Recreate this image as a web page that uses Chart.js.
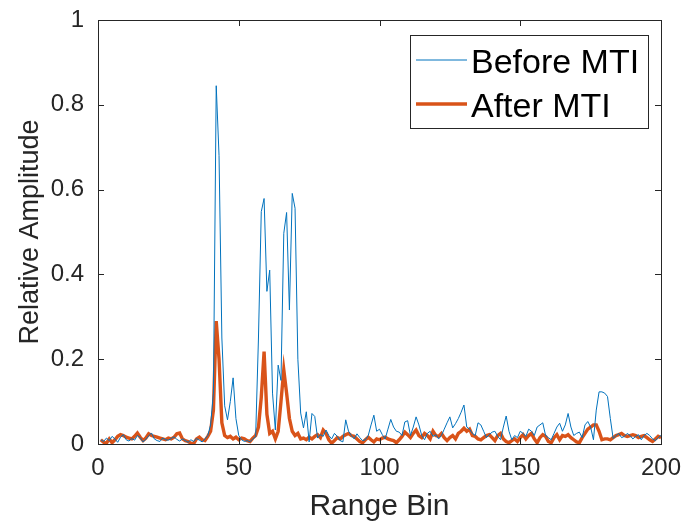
<!DOCTYPE html>
<html>
<head>
<meta charset="utf-8">
<script src="https://cdn.jsdelivr.net/npm/chart.js@4/dist/chart.umd.min.js"></script>
<style>
  html, body { margin: 0; padding: 0; background: #fff; }
  #wrap { width: 681px; height: 522px; }
</style>
</head>
<body>
<div id="wrap"><canvas id="mti"></canvas></div>
<script>
'use strict';

// range bins 1..200
const rangeBins = Array.from({ length: 200 }, (_, i) => i + 1);

const beforeMti = [
  0.010, 0.006, 0.014, 0.008, 0.018, 0.012, 0.004, 0.016, 0.022, 0.010,
  0.007, 0.013, 0.009, 0.020, 0.015, 0.005, 0.011, 0.019, 0.026, 0.012,
  0.008, 0.006, 0.014, 0.010, 0.009, 0.013, 0.017, 0.011, 0.007, 0.012,
  0.008, 0.004, 0.010, 0.006, 0.013, 0.009, 0.005, 0.012, 0.020, 0.045,
  0.120, 0.845, 0.680, 0.250, 0.090, 0.057, 0.100, 0.156, 0.060, 0.020,
  0.010, 0.006, 0.008, 0.005, 0.012, 0.017, 0.250, 0.548, 0.579, 0.360,
  0.410, 0.120, 0.033, 0.186, 0.150, 0.497, 0.546, 0.316, 0.591, 0.556,
  0.200, 0.073, 0.038, 0.076, 0.005, 0.072, 0.065, 0.014, 0.022, 0.018,
  0.033, 0.020, 0.012, 0.025, 0.018, 0.008, 0.005, 0.057, 0.030, 0.020,
  0.012, 0.024, 0.015, 0.008, 0.010, 0.020, 0.045, 0.068, 0.030, 0.035,
  0.022, 0.012, 0.035, 0.058, 0.040, 0.030, 0.028, 0.020, 0.052, 0.055,
  0.020, 0.040, 0.064, 0.045, 0.020, 0.010, 0.025, 0.030, 0.018, 0.022,
  0.012, 0.020, 0.035, 0.050, 0.064, 0.038, 0.048, 0.060, 0.075, 0.092,
  0.040, 0.035, 0.025, 0.020, 0.050, 0.045, 0.030, 0.015, 0.022, 0.028,
  0.030, 0.018, 0.010, 0.040, 0.066, 0.030, 0.010, 0.020, 0.015, 0.030,
  0.025, 0.018, 0.035, 0.030, 0.020, 0.040, 0.045, 0.050, 0.020, 0.015,
  0.010, 0.025, 0.040, 0.049, 0.030, 0.045, 0.072, 0.040, 0.020, 0.025,
  0.028, 0.015, 0.045, 0.053, 0.040, 0.010, 0.080, 0.123, 0.123, 0.120,
  0.112, 0.060, 0.013, 0.020, 0.025, 0.015, 0.018, 0.025, 0.020, 0.012,
  0.018, 0.022, 0.010, 0.020, 0.025, 0.020, 0.012, 0.008, 0.015, 0.020
];

const afterMti = [
  0.010, 0.004, 0.002, 0.012, 0.003, 0.010, 0.018, 0.022, 0.020, 0.016,
  0.014, 0.012, 0.018, 0.026, 0.016, 0.008, 0.014, 0.024, 0.020, 0.018,
  0.016, 0.014, 0.012, 0.010, 0.014, 0.012, 0.016, 0.024, 0.026, 0.012,
  0.008, 0.006, 0.002, 0.001, 0.012, 0.016, 0.010, 0.008, 0.018, 0.030,
  0.080, 0.290, 0.200, 0.050, 0.020, 0.015, 0.018, 0.012, 0.016, 0.010,
  0.014, 0.012, 0.008, 0.006, 0.014, 0.020, 0.040, 0.110, 0.218, 0.070,
  0.025, 0.030, 0.012, 0.030, 0.100, 0.175, 0.120, 0.060, 0.030, 0.020,
  0.025, 0.012, 0.014, 0.010, 0.016, 0.012, 0.018, 0.022, 0.015, 0.033,
  0.025, 0.010, 0.002, 0.008, 0.015, 0.012, 0.018, 0.022, 0.025, 0.020,
  0.018, 0.012, 0.006, 0.003, 0.010, 0.016, 0.010, 0.005, 0.012, 0.010,
  0.014, 0.016, 0.012, 0.010, 0.008, 0.003, 0.010, 0.018, 0.028, 0.022,
  0.015, 0.025, 0.033, 0.020, 0.015, 0.025, 0.020, 0.012, 0.030, 0.020,
  0.018, 0.025, 0.015, 0.008, 0.015, 0.020, 0.012, 0.025, 0.030, 0.037,
  0.030, 0.035, 0.020, 0.018, 0.012, 0.010, 0.015, 0.020, 0.022, 0.015,
  0.008, 0.020, 0.025, 0.012, 0.006, 0.003, 0.008, 0.012, 0.006, 0.015,
  0.022, 0.012, 0.020, 0.025, 0.012, 0.003, 0.015, 0.022, 0.018, 0.006,
  0.003, 0.015, 0.022, 0.010, 0.020, 0.018, 0.022, 0.015, 0.010, 0.005,
  0.003, 0.015, 0.025, 0.035, 0.040, 0.045, 0.045, 0.030, 0.010, 0.012,
  0.012, 0.010, 0.015, 0.020, 0.022, 0.025, 0.020, 0.018, 0.020, 0.022,
  0.020, 0.015, 0.018, 0.020, 0.015, 0.010, 0.006, 0.012, 0.018, 0.015
];

const xTicks = [0, 50, 100, 150, 200];
const yTicks = [0, 0.2, 0.4, 0.6, 0.8, 1];

const AXIS_COLOR = '#262626';
const FONT = '"Liberation Sans", Arial, Helvetica, sans-serif';

const toPoints = ys => rangeBins.map((b, i) => ({ x: b, y: ys[i] }));

// scales should not push the plot area in for overhanging tick labels
function noLabelPadding(s) {
  s.paddingLeft = 0;
  s.paddingRight = 0;
  s.paddingTop = 0;
  s.paddingBottom = 0;
}

// box around the axes with inward ticks on all four sides
const axisFrame = {
  id: 'axisFrame',
  afterDatasetsDraw(chart) {
    const { ctx, chartArea: a, scales: { x, y } } = chart;
    const len = 6;
    ctx.save();
    ctx.strokeStyle = AXIS_COLOR;
    ctx.lineWidth = 1;
    ctx.strokeRect(Math.round(a.left) + 0.5, Math.round(a.top) + 0.5,
                   Math.round(a.right - a.left), Math.round(a.bottom - a.top));
    ctx.beginPath();
    x.ticks.forEach(t => {
      const px = Math.round(x.getPixelForValue(t.value)) + 0.5;
      ctx.moveTo(px, a.bottom); ctx.lineTo(px, a.bottom - len);
      ctx.moveTo(px, a.top);    ctx.lineTo(px, a.top + len);
    });
    y.ticks.forEach(t => {
      const py = Math.round(y.getPixelForValue(t.value)) + 0.5;
      ctx.moveTo(a.left, py);  ctx.lineTo(a.left + len, py);
      ctx.moveTo(a.right, py); ctx.lineTo(a.right - len, py);
    });
    ctx.stroke();
    ctx.restore();
  }
};

// legend box in the upper right corner
const cornerLegend = {
  id: 'cornerLegend',
  afterDraw(chart) {
    const { ctx } = chart;
    const box = { left: 410, top: 35, w: 238, h: 93 };
    ctx.save();
    ctx.fillStyle = '#fff';
    ctx.fillRect(box.left, box.top, box.w, box.h);
    ctx.strokeStyle = AXIS_COLOR;
    ctx.lineWidth = 1;
    ctx.strokeRect(box.left + 0.5, box.top + 0.5, box.w, box.h);
    ctx.font = '34px ' + FONT;
    ctx.textBaseline = 'alphabetic';
    const rows = [60, 104];
    chart.data.datasets.forEach((ds, i) => {
      const yy = rows[i];
      ctx.strokeStyle = ds.borderColor;
      ctx.lineWidth = ds.borderWidth;
      ctx.beginPath();
      ctx.moveTo(416, yy);
      ctx.lineTo(467, yy);
      ctx.stroke();
      ctx.fillStyle = '#000';
      ctx.fillText(ds.label, 471, yy + 13);
    });
    ctx.restore();
  }
};

new Chart(document.getElementById('mti'), {
  type: 'line',
  data: {
    datasets: [
      {
        label: 'Before MTI',
        data: toPoints(beforeMti),
        borderColor: '#0072BD',
        borderWidth: 1,
        pointRadius: 0,
        tension: 0,
      },
      {
        label: 'After MTI',
        data: toPoints(afterMti),
        borderColor: '#D95319',
        borderWidth: 3.4,
        pointRadius: 0,
        tension: 0,
      },
    ],
  },
  options: {
    responsive: true,
    maintainAspectRatio: false,
    animation: false,
    events: [],
    layout: { padding: { top: 20, right: 20, left: 0, bottom: 0 } },
    plugins: {
      legend: { display: false },
      tooltip: { enabled: false },
    },
    scales: {
      x: {
        type: 'linear',
        min: 0,
        max: 200,
        afterBuildTicks: s => { s.ticks = xTicks.map(v => ({ value: v })); },
        afterFit: s => { s.height = 78; noLabelPadding(s); },
        grid: { display: false, drawTicks: false },
        border: { display: false },
        ticks: {
          color: AXIS_COLOR,
          font: { family: FONT, size: 24 },
          padding: 10,
          maxRotation: 0,
        },
        title: {
          display: true,
          text: 'Range Bin',
          color: AXIS_COLOR,
          font: { family: FONT, size: 30, lineHeight: 1.05 },
          padding: { top: 0, bottom: 0 },
        },
      },
      y: {
        min: 0,
        max: 1,
        afterBuildTicks: s => { s.ticks = yTicks.map(v => ({ value: v })); },
        afterFit: s => { s.width = 98; noLabelPadding(s); },
        grid: { display: false, drawTicks: false },
        border: { display: false },
        ticks: {
          color: AXIS_COLOR,
          font: { family: FONT, size: 24 },
          padding: 14,
          callback: v => String(v),
        },
        title: {
          display: true,
          text: 'Relative Amplitude',
          color: AXIS_COLOR,
          font: { family: FONT, size: 27 },
          padding: { top: 14, bottom: 0 },
        },
      },
    },
  },
  plugins: [axisFrame, cornerLegend],
});
</script>
</body>
</html>
